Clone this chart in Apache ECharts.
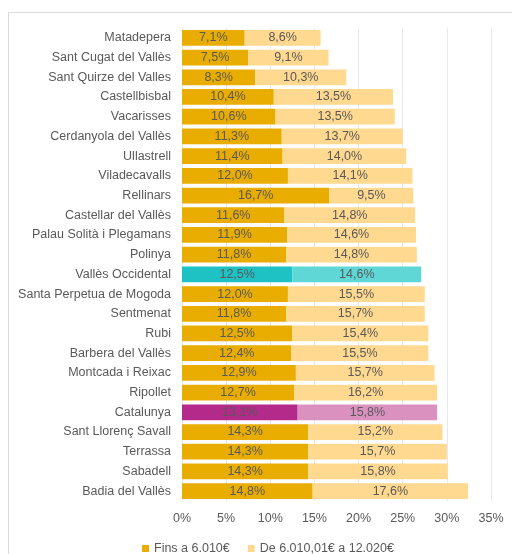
<!DOCTYPE html>
<html><head><meta charset="utf-8">
<script src="https://cdn.jsdelivr.net/npm/echarts@6/dist/echarts.min.js"></script>
<style>html,body{margin:0;padding:0;background:#fff}#c{width:512px;height:554px}</style>
</head><body><div id="c"></div>
<script>
const categories = ["Matadepera","Sant Cugat del Vallès","Sant Quirze del Valles","Castellbisbal","Vacarisses","Cerdanyola del Vallès","Ullastrell","Viladecavalls","Rellinars","Castellar del Vallès","Palau Solità i Plegamans","Polinya","Vallès Occidental","Santa Perpetua de Mogoda","Sentmenat","Rubi","Barbera del Vallès","Montcada i Reixac","Ripollet","Catalunya","Sant Llorenç Savall","Terrassa","Sabadell","Badia del Vallès"];
const fins6010 = [7.1,7.5,8.3,10.4,10.6,11.3,11.4,12.0,16.7,11.6,11.9,11.8,12.5,12.0,11.8,12.5,12.4,12.9,12.7,13.1,14.3,14.3,14.3,14.8];
const de6010a12020 = [8.6,9.1,10.3,13.5,13.5,13.7,14.0,14.1,9.5,14.8,14.6,14.8,14.6,15.5,15.7,15.4,15.5,15.7,16.2,15.8,15.2,15.7,15.8,17.6];
const seriesNames = ["Fins a 6.010€","De 6.010,01€ a 12.020€"];
const xTicks = [0,5,10,15,20,25,30,35];

const baseColors = ["#E8AD00","#FFD98F"];
const highlight = {"Vallès Occidental":["#1EC1C4","#5FD7D7"],"Catalunya":["#B32A8B","#DA91C0"]};

const cats = categories.slice().reverse();
function build(vals, idx){
  return vals.slice().reverse().map((v,i)=>{
    const h = highlight[cats[i]];
    return h ? {value:v, itemStyle:{color:h[idx]}} : v;
  });
}
const fmt = p => String(p.value.toFixed(1)).replace('.',',') + '%';
const lbl = {show:true, position:'inside', formatter:fmt, color:'#595959', fontSize:12.5, fontFamily:'Liberation Sans'};

const chart = echarts.init(document.getElementById('c'));
chart.setOption({
  animation:false,
  textStyle:{fontFamily:'Liberation Sans'},
  graphic:[{type:'rect', shape:{x:8.5,y:12.5,width:700,height:700}, style:{fill:'none', stroke:'#D9D9D9', lineWidth:1}, silent:true}],
  grid:{left:182, right:21, top:28, bottom:53, containLabel:false},
  legend:{left:137, top:537, itemWidth:7, itemHeight:7, icon:'rect', itemGap:18,
    textStyle:{color:'#595959', fontSize:12.5, fontFamily:'Liberation Sans'}, data:seriesNames},
  xAxis:{type:'value', min:xTicks[0], max:xTicks[xTicks.length-1], interval:5,
    axisLine:{show:false}, axisTick:{show:false},
    splitLine:{show:true, lineStyle:{color:'#E8E8E8', width:1}},
    axisLabel:{formatter:'{value}%', color:'#595959', fontSize:12.5, margin:11}},
  yAxis:{type:'category', data:cats, axisLine:{show:false}, axisTick:{show:false},
    axisLabel:{color:'#595959', fontSize:12.5, margin:11}},
  series:[
    {name:seriesNames[0], type:'bar', stack:'t', data:build(fins6010,0), itemStyle:{color:baseColors[0]}, barCategoryGap:'20%', label:lbl},
    {name:seriesNames[1], type:'bar', stack:'t', data:build(de6010a12020,1), itemStyle:{color:baseColors[1]}, label:lbl}
  ]
});
</script></body></html>
